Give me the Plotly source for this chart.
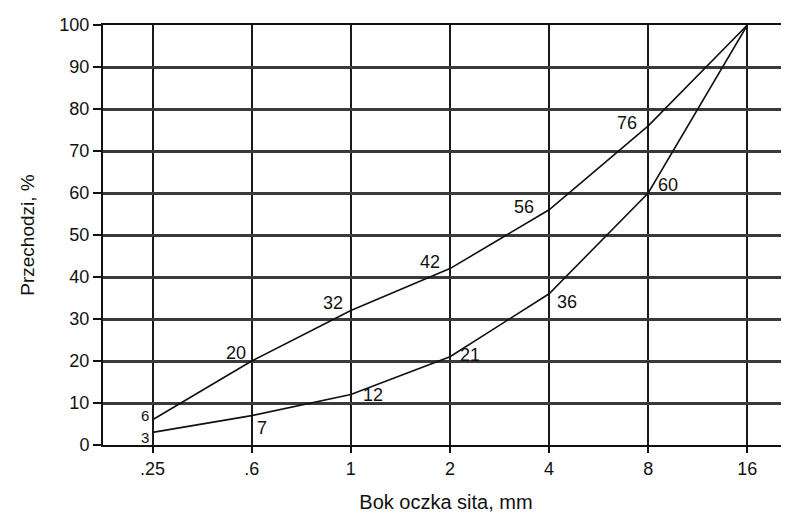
import plotly.graph_objects as go

sieve_labels = [".25", ".6", "1", "2", "4", "8", "16"]
upper_pass = [6, 20, 32, 42, 56, 76, 100]
lower_pass = [3, 7, 12, 21, 36, 60, 100]
upper_text = ["6", "20", "32", "42", "56", "76", ""]
lower_text = ["3", "7", "12", "21", "36", "60", ""]
y_ticks = [0, 10, 20, 30, 40, 50, 60, 70, 80, 90, 100]

# label offsets in pixels (style only)
upper_shift = [(-8, 4), (-16, 8), (-18, 8), (-20, 7), (-25, 3), (-21, 3), (0, 0)]
lower_shift = [(-8, -5), (10, -12), (22, 0), (20, 2), (18, -8), (20, 8), (0, 0)]
small_size = [15, 18, 18, 18, 18, 18, 18]

FONT = "Liberation Sans, Arial, sans-serif"

fig = go.Figure()
for vals in (upper_pass, lower_pass):
    fig.add_trace(go.Scatter(x=sieve_labels, y=vals, mode="lines",
                             line=dict(color="#111", width=1.6),
                             showlegend=False, hoverinfo="skip"))

annotations = []
for vals, texts, shifts in ((upper_pass, upper_text, upper_shift),
                            (lower_pass, lower_text, lower_shift)):
    for i, (yv, t, (dx, dy)) in enumerate(zip(vals, texts, shifts)):
        if not t:
            continue
        # category axis: annotation x is the category index
        annotations.append(dict(x=i, y=yv, xref="x", yref="y", text=t,
                                showarrow=False, xshift=dx, yshift=dy,
                                font=dict(family=FONT, size=small_size[i], color="#111")))

# page body has an 8px default margin, so the figure is sized to fit inside
fig.update_layout(
    width=781, height=505,
    margin=dict(l=95, r=0, t=17, b=68),
    paper_bgcolor="white", plot_bgcolor="white",
    annotations=annotations,
    font=dict(family=FONT, color="#111"),
    xaxis=dict(
        type="category", categoryorder="array", categoryarray=sieve_labels,
        range=[-0.5, 6.42], automargin=False,
        showgrid=True, gridcolor="#1a1a1a", gridwidth=2,
        showline=True, linecolor="#111", linewidth=2, mirror=True,
        ticks="outside", ticklen=6, tickwidth=2, tickcolor="#111",
        tickfont=dict(size=18, family=FONT, color="#111"),
        title=dict(text="Bok oczka sita, mm", font=dict(size=20, family=FONT, color="#111"),
                   standoff=20),
        zeroline=False,
    ),
    yaxis=dict(
        range=[0, 100], tickvals=y_ticks, automargin=False,
        showgrid=True, gridcolor="#3a3a3a", gridwidth=2.5,
        showline=True, linecolor="#111", linewidth=2,
        ticks="outside", ticklen=8, tickwidth=2, tickcolor="#111",
        tickfont=dict(size=18, family=FONT, color="#111"),
        title=dict(text="Przechodzi, %", font=dict(size=19, family=FONT, color="#111"),
                   standoff=20),
        zeroline=False,
    ),
)

fig.write_html("out.html")
